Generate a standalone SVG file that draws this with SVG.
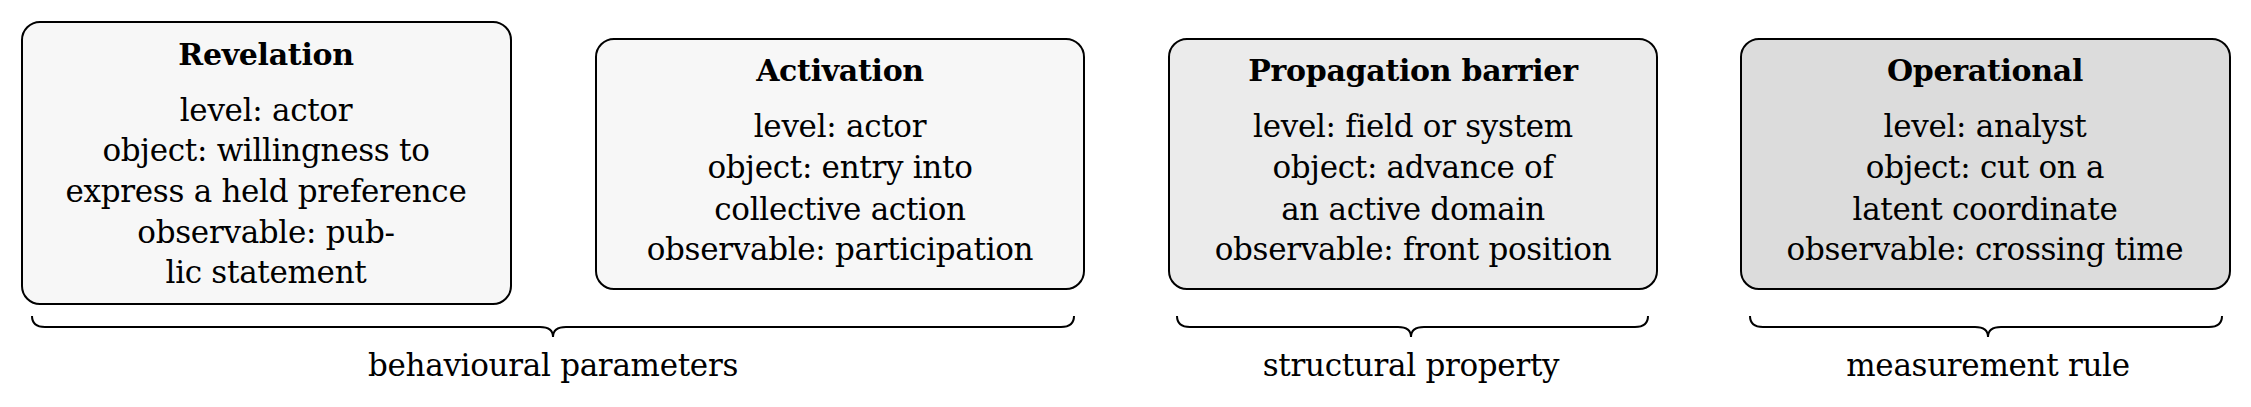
<svg xmlns="http://www.w3.org/2000/svg" width="2251" height="407" viewBox="0 0 2251 407">
<style>
.b{stroke:#000;stroke-width:2}
text{font-family:"DejaVu Serif",serif;font-size:31px;text-anchor:middle;fill:#000;letter-spacing:-0.3px}
.t{font-weight:bold;font-size:30px}
.br{fill:none;stroke:#000;stroke-width:2}
</style>
<rect width="2251" height="407" fill="#fff"/>
<g id="revelation"><rect class="b" x="22" y="22" width="489" height="282" rx="18" fill="#f7f7f7"/>
<text x="266" y="65" class="t">Revelation</text>
<text x="266" y="121">level:  actor</text><text x="266" y="161">object:  willingness to</text><text x="266" y="202">express a held preference</text><text x="266" y="243">observable:  pub-</text><text x="266" y="283">lic statement</text></g>
<g id="activation"><rect class="b" x="596" y="39" width="488" height="250" rx="18" fill="#f7f7f7"/>
<text x="840" y="81" class="t">Activation</text>
<text x="840" y="137">level:  actor</text><text x="840" y="178">object:  entry into</text><text x="840" y="220">collective action</text><text x="840" y="260">observable:  participation</text></g>
<g id="barrier"><rect class="b" x="1169" y="39" width="488" height="250" rx="18" fill="#ebebeb"/>
<text x="1413" y="81" class="t">Propagation barrier</text>
<text x="1413" y="137">level:  field or system</text><text x="1413" y="178">object:  advance of</text><text x="1413" y="220">an active domain</text><text x="1413" y="260">observable:  front position</text></g>
<g id="operational"><rect class="b" x="1741" y="39" width="489" height="250" rx="18" fill="#dcdcdc"/>
<text x="1985" y="81" class="t">Operational</text>
<text x="1985" y="137">level:  analyst</text><text x="1985" y="178">object:  cut on a</text><text x="1985" y="220">latent coordinate</text><text x="1985" y="260">observable:  crossing time</text></g>
<g id="connectors">
<path class="br" d="M32 316 Q32 327 45 327 L540 327 Q553 327 553 337 Q553 327 566 327 L1061 327 Q1074 327 1074 316"/>
<path class="br" d="M1177 316 Q1177 327 1190 327 L1398 327 Q1411 327 1411 337 Q1411 327 1424 327 L1635 327 Q1648 327 1648 316"/>
<path class="br" d="M1750 316 Q1750 327 1763 327 L1975 327 Q1988 327 1988 337 Q1988 327 2001 327 L2209 327 Q2222 327 2222 316"/>
</g>
<text x="553" y="376">behavioural parameters</text>
<text x="1411" y="376">structural property</text>
<text x="1988" y="376">measurement rule</text>
</svg>
